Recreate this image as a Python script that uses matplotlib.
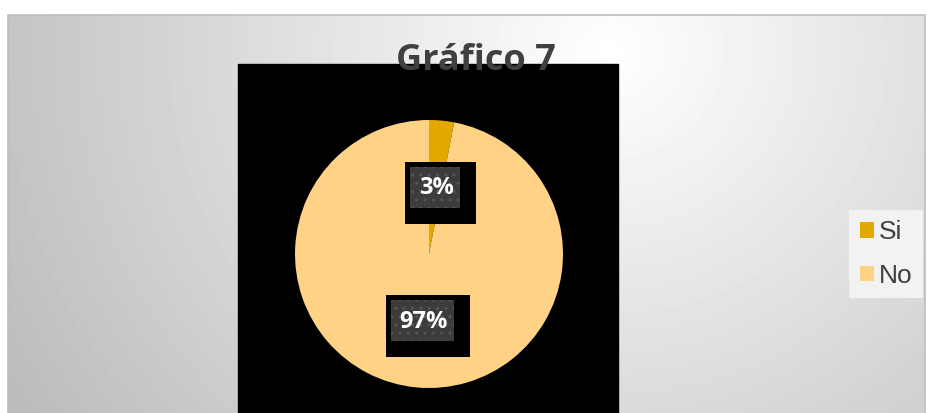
import numpy as np
import matplotlib
matplotlib.use("Agg")
import matplotlib.pyplot as plt
from matplotlib.patches import Rectangle

# chart data
labels = ["Si", "No"]
values = [3, 97]
colors = ["#e2a900", "#ffd286"]
title = "Gráfico 7"

W, H = 929, 413
fig = plt.figure(figsize=(W / 100, H / 100), dpi=100)
fig.patch.set_facecolor("white")

# background layer in pixel coordinates (y grows downward)
bg = fig.add_axes([0, 0, 1, 1], zorder=0)
bg.set_xlim(0, W)
bg.set_ylim(H, 0)
bg.axis("off")

# radial grey gradient for the chart area
x0, x1, y0, y1 = 8, 925, 15, 413
xx, yy = np.meshgrid(np.arange(x0, x1), np.arange(y0, y1))
d = np.hypot(xx - 610, (yy - 50) * 1.05)
shade = np.clip(255 - 0.097 * d, 188, 255) / 255.0
bg.imshow(shade, cmap="gray", vmin=0, vmax=1, extent=(x0, x1, y1, y0),
          interpolation="bilinear", aspect="auto")
bg.plot([x0, x0, x1, x1], [y1, y0, y0, y1], color="#bdbdbd", lw=1.2)

# plot area
bg.add_patch(Rectangle((238, 64), 380, H - 64, color="black"))

# pie
cx, cy, R = 429, 254, 134
pie_ax = fig.add_axes([(cx - R) / W, (H - cy - R) / H, 2 * R / W, 2 * R / H], zorder=1)
wedges, _ = pie_ax.pie(values, colors=colors, startangle=90, counterclock=False,
                       wedgeprops=dict(linewidth=0))
pie_ax.set_xlim(-1, 1)
pie_ax.set_ylim(-1, 1)
pie_ax.axis("off")

# overlay for labels and title
top = fig.add_axes([0, 0, 1, 1], zorder=2)
top.set_xlim(0, W)
top.set_ylim(H, 0)
top.axis("off")
top.patch.set_alpha(0)

renderer = fig.canvas.get_renderer()
for w, v in zip(wedges, values):
    ang = np.deg2rad((w.theta1 + w.theta2) / 2)
    tx = cx + 0.5 * R * np.cos(ang)
    ty = cy - 0.5 * R * np.sin(ang)
    t = top.text(tx + 1, ty + 1, f"{v}%", color="white", fontsize=17,
                 fontweight="bold", family="Open Sans", ha="center", va="center",
                 zorder=5)
    tw = t.get_window_extent(renderer).width
    gw, gh = tw + 15, 41
    gx, gy = tx - gw / 2, ty - gh / 2
    top.add_patch(Rectangle((gx - 5, gy - 5), gw + 21, gh + 21,
                            facecolor="black", lw=0, zorder=3))
    top.add_patch(Rectangle((gx, gy), gw, gh, facecolor="#3c3c3c",
                            edgecolor="#555555", hatch="..", lw=0, zorder=4))

top.text(476, 61, title, fontsize=26, fontweight="bold", family="Open Sans",
         color="#404040", ha="center", va="center", zorder=6)

leg = fig.legend(wedges, labels, loc="center", bbox_to_anchor=(886 / W, 1 - 254 / H),
                 prop=dict(family="Liberation Sans", size=19), labelcolor="#404040",
                 frameon=True, fancybox=False, facecolor="#f2f2f2", edgecolor="none",
                 framealpha=1, handlelength=0.53, handleheight=0.53,
                 handletextpad=0.2, labelspacing=0.75, borderpad=0.4)
leg.set_zorder(7)

fig.savefig("out.png", dpi=100)
